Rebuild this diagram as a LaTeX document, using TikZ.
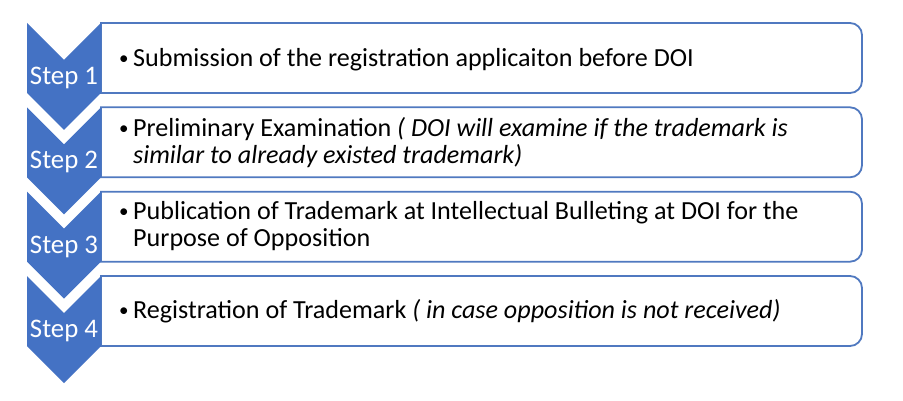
\documentclass[tikz,border=0pt]{standalone}
\usepackage{fontspec}
\setmainfont{Carlito}
\definecolor{chev}{HTML}{4472C4}
\definecolor{boxline}{HTML}{5079C0}
\begin{document}
\begin{tikzpicture}[x=1pt,y=-1pt,
  chevron/.style={fill=chev,draw=none},
  stepbox/.style={fill=white,draw=boxline,line width=1.8pt},
  steplabel/.style={anchor=base,inner sep=0pt,text=white,font=\fontsize{26.8}{29}\selectfont},
  line/.style={anchor=base west,inner sep=0pt,font=\fontsize{26.1}{29}\selectfont},
  bul/.style={anchor=base west,inner sep=0pt,font=\fontsize{19}{20}\selectfont}]
\useasboundingbox[fill=white] (0,0) rectangle (903,401);
\foreach \t in {23,107.3,191.7,276}{
  \draw[stepbox] (101,\t) -- (850,\t) arc[start angle=-90,end angle=0,radius=12]
    -- (862,\t+58) arc[start angle=0,end angle=90,radius=12] -- (101,\t+70) -- cycle;
  \fill[chevron] (27,\t) -- (64,\t+37) -- (101,\t) -- (101,\t+70) -- (64,\t+107) -- (27,\t+70) -- cycle;
}
\node[steplabel] (s1) at (64,85) {Step 1};
\node[steplabel] (s2) at (64,168.5) {Step 2};
\node[steplabel] (s3) at (64,253) {Step 3};
\node[steplabel] (s4) at (64,337) {Step 4};
\node[bul] (b1) at (119,64.7) {•};
\node[line] (t1) at (133,66.7) {Submission of the registration applicaiton before DOI};
\node[bul] (b2) at (119,134.7) {•};
\node[line] (t2a) at (133,136.7) {Preliminary Examination \textit{( DOI will examine if the trademark is}};
\node[line] (t2b) at (133,163.3) {\textit{similar to already existed trademark)}};
\node[bul] (b3) at (119,217.3) {•};
\node[line] (t3a) at (133,219.3) {Publication of Trademark at Intellectual Bulleting at DOI for the};
\node[line] (t3b) at (133,246.7) {Purpose of Opposition};
\node[bul] (b4) at (119,316) {•};
\node[line] (t4) at (133,318) {Registration of Trademark \textit{( in case opposition is not received)}};
\end{tikzpicture}
\end{document}
